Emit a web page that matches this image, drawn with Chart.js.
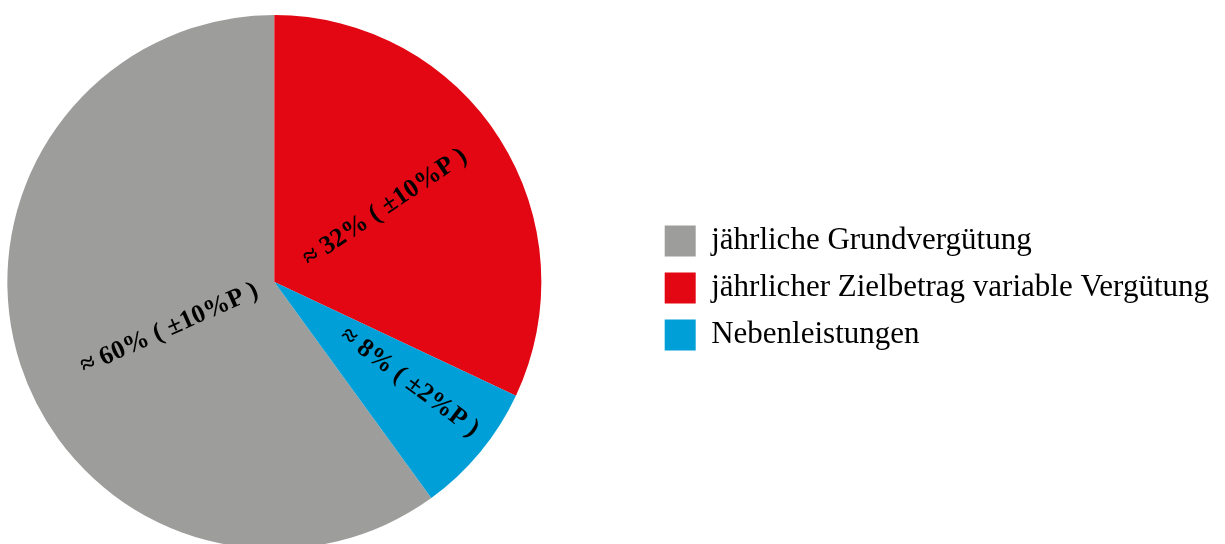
<!DOCTYPE html>
<html lang="de">
<head>
<meta charset="utf-8">
<title>Vergütungsstruktur</title>
<script src="https://cdn.jsdelivr.net/npm/chart.js@4.4.1/dist/chart.umd.min.js"></script>
<style>
  html, body { margin: 0; padding: 0; background: #fff; overflow: hidden; }
  body { width: 1225px; height: 544px; position: relative; }
  #pie { position: absolute; left: -100px; top: 0; }
</style>
</head>
<body>
<canvas id="pie" width="1319" height="564"></canvas>
<script>
const categories = [
  "jährliche Grundvergütung",
  "jährlicher Zielbetrag variable Vergütung",
  "Nebenleistungen",
];
const shares = [60, 32, 8];
const sliceLabels = ["≈ 60% ( ±10%P )", "≈ 32% ( ±10%P )", "≈ 8% ( ±2%P )"];

const COLOR = { gray: "#9d9d9c", red: "#e30613", blue: "#009fd7", black: "#000" };
const SERIF = "'Liberation Serif', 'Times New Roman', serif";

// rotated text on each slice, placed from the arc geometry
const sliceLabelPlugin = {
  id: "sliceLabels",
  afterDatasetsDraw(chart, args, opts) {
    const { ctx } = chart;
    const meta = chart.getDatasetMeta(0);
    ctx.save();
    ctx.font = opts.font;
    ctx.fillStyle = opts.color;
    ctx.textAlign = "center";
    ctx.textBaseline = "middle";
    meta.data.forEach((arc, i) => {
      const { x, y, startAngle, endAngle, outerRadius } = arc.getProps(
        ["x", "y", "startAngle", "endAngle", "outerRadius"],
        true
      );
      const angle = (startAngle + endAngle) / 2 + (opts.turn[i] * Math.PI) / 180;
      const r = outerRadius * opts.radius[i];
      ctx.save();
      ctx.translate(x + Math.cos(angle) * r, y + Math.sin(angle) * r);
      ctx.rotate(Math.cos(angle) < 0 ? angle + Math.PI : angle);
      ctx.fillText(sliceLabels[i], 0, 0);
      ctx.restore();
    });
    ctx.restore();
  },
};

Chart.defaults.font.family = SERIF;

new Chart(document.getElementById("pie"), {
  type: "pie",
  data: {
    labels: categories,
    datasets: [
      {
        data: shares,
        backgroundColor: [COLOR.gray, COLOR.red, COLOR.blue],
        borderWidth: 0,
        hoverOffset: 0,
      },
    ],
  },
  options: {
    responsive: false,
    animation: false,
    rotation: 144,
    radius: 267,
    layout: { padding: 0 },
    plugins: {
      legend: {
        position: "right",
        title: { display: true, text: "", font: { size: 10, lineHeight: 1.2 }, padding: 0 },
        labels: {
          boxWidth: 31,
          boxHeight: 31,
          padding: 16,
          color: COLOR.black,
          font: { family: SERIF, size: 31 },
        },
      },
      tooltip: { enabled: false },
      sliceLabels: {
        font: "bold 26px " + SERIF,
        color: COLOR.black,
        radius: [0.43, 0.5, 0.63],
        turn: [-6, -1.5, -3],
      },
    },
  },
  plugins: [sliceLabelPlugin],
});
</script>
</body>
</html>
